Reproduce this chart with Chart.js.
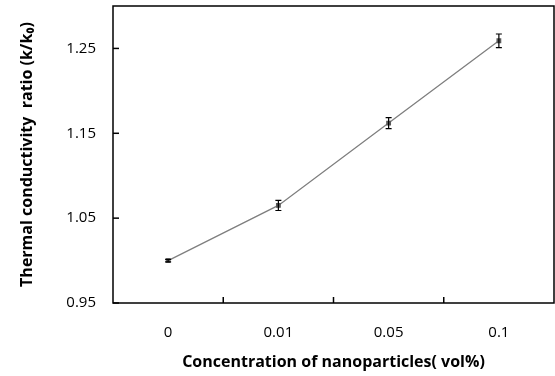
<!DOCTYPE html>
<html>
<head>
<meta charset="utf-8">
<script src="https://cdn.jsdelivr.net/npm/chart.js@4/dist/chart.umd.min.js"></script>
<style>
  html,body{margin:0;padding:0;background:#fff}
  #wrap{width:555px;height:376px}
</style>
</head>
<body>
<div id="wrap"><canvas id="chart" width="555" height="376"></canvas></div>
<script>
// data
const concentrations = ['0', '0.01', '0.05', '0.1'];
const ratio = [1.000, 1.065, 1.162, 1.259];
const ratioErr = [0.0015, 0.006, 0.0065, 0.008];
const yTicks = [0.95, 1.05, 1.15, 1.25];

const FONT = '"Open Sans", "Noto Sans", sans-serif';

// frame, inward tick marks and error bars
const framePlugin = {
  id: 'frame',
  afterDatasetsDraw(chart){
    const ctx = chart.ctx, a = chart.chartArea;
    const xs = chart.scales.x, ys = chart.scales.y;
    ctx.save();
    // error bars
    ctx.strokeStyle = '#000'; ctx.lineWidth = 1.2;
    ratio.forEach((v,i)=>{
      const px = xs.getPixelForValue(i);
      const top = ys.getPixelForValue(v + ratioErr[i]);
      const bot = ys.getPixelForValue(v - ratioErr[i]);
      ctx.beginPath();
      ctx.moveTo(px, top); ctx.lineTo(px, bot);
      ctx.moveTo(px-3, top); ctx.lineTo(px+3, top);
      ctx.moveTo(px-3, bot); ctx.lineTo(px+3, bot);
      ctx.stroke();
    });
    // box
    ctx.lineWidth = 1.5;
    ctx.strokeRect(a.left, a.top, a.right-a.left, a.bottom-a.top);
    // y tick marks (inside)
    yTicks.forEach(t=>{
      const py = ys.getPixelForValue(t);
      ctx.beginPath(); ctx.moveTo(a.left, py); ctx.lineTo(a.left+6, py); ctx.stroke();
    });
    // x tick marks at category boundaries (inside)
    for(let i=1;i<concentrations.length;i++){
      const px = (xs.getPixelForValue(i-1)+xs.getPixelForValue(i))/2;
      ctx.beginPath(); ctx.moveTo(px, a.bottom); ctx.lineTo(px, a.bottom-6); ctx.stroke();
    }
    ctx.restore();
  }
};

new Chart(document.getElementById('chart').getContext('2d'), {
  type: 'line',
  data: {
    labels: concentrations,
    datasets: [{
      data: ratio,
      borderColor: '#7f7f7f',
      borderWidth: 1.3,
      pointStyle: 'rect',
      pointRadius: 2.5,
      pointBackgroundColor: '#5a5a5a',
      pointBorderColor: '#5a5a5a',
      tension: 0
    }]
  },
  options: {
    responsive: false,
    animation: false,
    layout: { autoPadding: false, padding: { top: 6, right: 1, left: 0, bottom: 0 } },
    plugins: { legend: { display: false }, tooltip: { enabled: false } },
    scales: {
      x: {
        type: 'category',
        offset: true,
        grid: { display: false, offset: true, drawTicks: false },
        border: { display: false },
        ticks: { color: '#000', padding: 21, font: { family: FONT, size: 15 } },
        title: { display: true, text: 'Concentration of nanoparticles( vol%)', color: '#000',
                 font: { family: FONT, size: 16, weight: 'bold' } },
        afterFit(s){ s.height = 73; s.paddingLeft = 0; s.paddingRight = 0; }
      },
      y: {
        min: 0.95, max: 1.30,
        afterBuildTicks(s){ s.ticks = yTicks.map(v=>({value:v})); },
        grid: { display: false, drawTicks: false },
        border: { display: false },
        ticks: { color: '#000', padding: 17, font: { family: FONT, size: 15 },
                 callback: v => Number(v).toFixed(2) },
        title: { display: true, text: 'Thermal conductivity  ratio (k/k\u2080)', color: '#000',
                 font: { family: FONT, size: 16, weight: 'bold' }, padding: { top: 18, bottom: 4 } },
        afterFit(s){ s.width = 113; s.paddingTop = 0; s.paddingBottom = 0; }
      }
    }
  },
  plugins: [framePlugin]
});
</script>
</body>
</html>
